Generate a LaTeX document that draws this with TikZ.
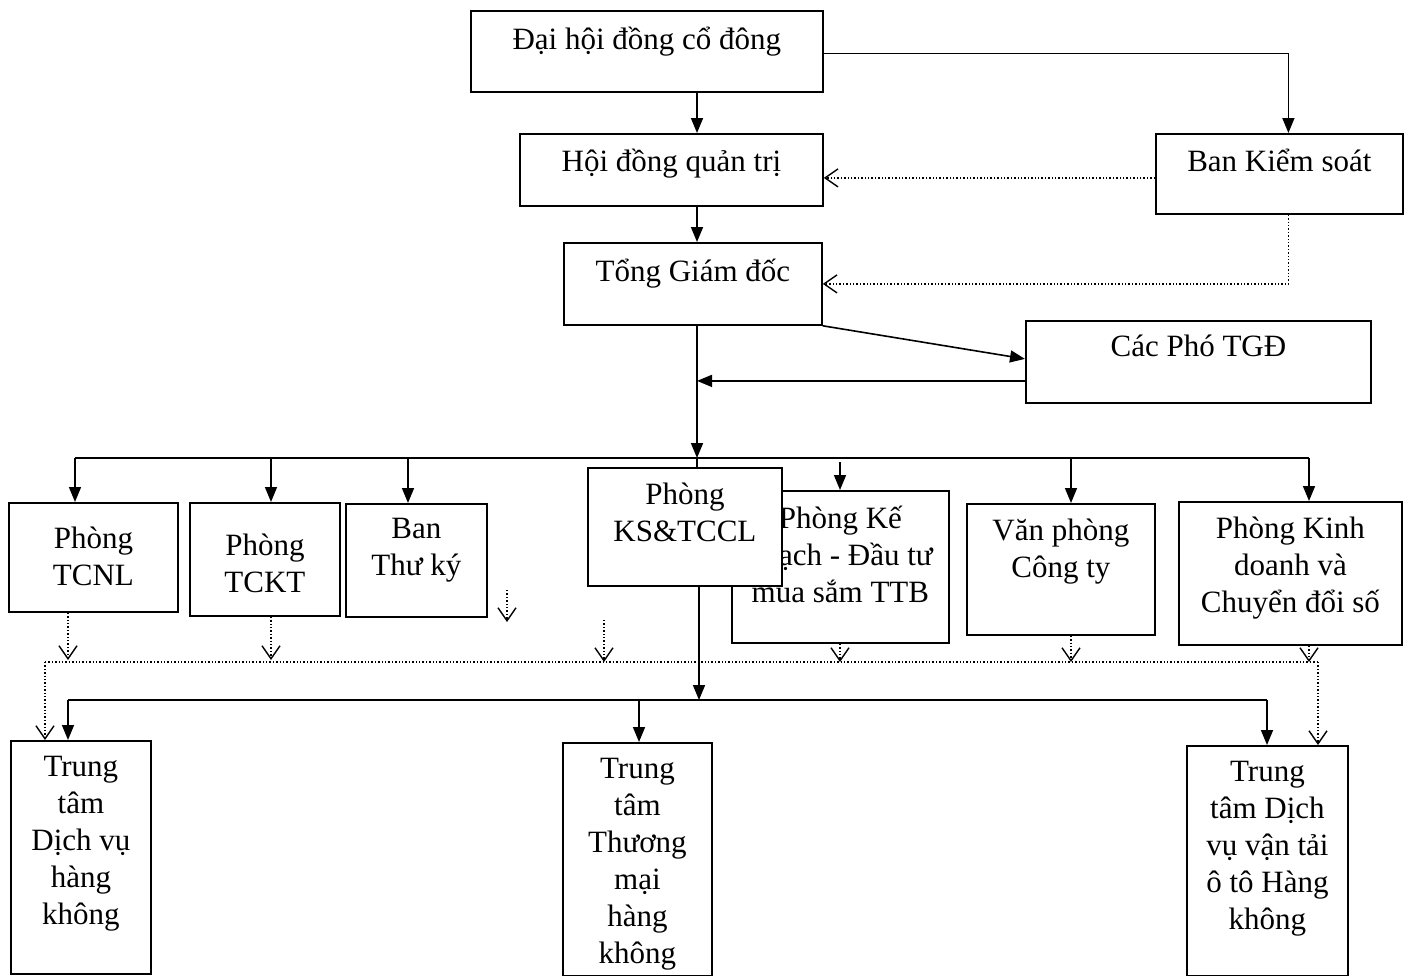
\documentclass[tikz,border=0pt]{standalone}
\usepackage{fontspec}
\setmainfont{Liberation Serif}
\usetikzlibrary{arrows.meta}
\begin{document}
\begin{tikzpicture}[
        x=0.5pt, y=-0.5pt,
        every node/.style={font=\fontsize{15.5}{18.5}\selectfont},
        box/.style={draw, line width=0.9pt, fill=white, anchor=north west, inner sep=0pt},
        lab/.style={anchor=north, align=center, inner sep=0pt, yshift=-8pt},
        ar/.style={-{Triangle[length=7.5pt,width=6pt]}, line width=0.8pt},
        dar/.style={-{Straight Barb[length=6.5pt,width=9pt,line width=0.7pt]}, densely dotted, line width=0.7pt},
    ]
    \useasboundingbox (0,0) rectangle (1408,975);
    \clip (0,0) rectangle (1408,975);

    % upper part
    \node[box, minimum width=176pt, minimum height=40.5pt, label={[lab, yshift=-0.5pt]north:Đại hội đồng cổ đông}] (dhd) at (470,10) {};
    \node[box, minimum width=151.5pt, minimum height=36pt, label={[lab]north:Hội đồng quản trị}] (hdqt) at (519,133) {};
    \node[box, minimum width=123.5pt, minimum height=40pt, label={[lab]north:Ban Kiểm soát}] (bks) at (1155,133) {};
    \node[box, minimum width=129pt, minimum height=41pt, label={[lab, yshift=-0.5pt]north:Tổng Giám đốc}] (tgd) at (563,242) {};
    \node[box, minimum width=172.5pt, minimum height=41pt, label={[lab, yshift=0.5pt]north:Các Phó TGĐ}] (pho) at (1025,320) {};

    % departments
    \node[box, minimum width=84.5pt, minimum height=54.5pt, label={[lab, yshift=-4.5pt]north:{Phòng\\TCNL}}] (tcnl) at (8,502) {};
    \node[box, minimum width=75pt, minimum height=56.5pt, label={[lab, yshift=-8pt]north:{Phòng\\TCKT}}] (tckt) at (189,502) {};
    \node[box, minimum width=70.5pt, minimum height=56.5pt, label={[lab, yshift=0.5pt]north:{Ban\\Thư ký}}] (ban) at (345,503) {};
    \node[box, minimum width=108.5pt, minimum height=76pt, label={[lab]north:{Phòng Kế\\hoạch - Đầu tư\\mua sắm TTB}}] (kh) at (731,490) {};
    \node[box, minimum width=97pt, minimum height=59pt, label={[lab]north:{Phòng\\KS\&TCCL}}] (ks) at (587,467) {};
    \node[box, minimum width=94pt, minimum height=65.5pt, label={[lab]north:{Văn phòng\\Công ty}}] (vp) at (966,503) {};
    \node[box, minimum width=111.5pt, minimum height=71.5pt, label={[lab]north:{Phòng Kinh\\doanh và\\Chuyển đổi số}}] (kd) at (1178,501) {};

    % centres
    \node[box, minimum width=70pt, minimum height=116.5pt, label={[lab]north:{Trung\\tâm\\Dịch vụ\\hàng\\không}}] (ttdv) at (10,740) {};
    \node[box, minimum width=74.5pt, minimum height=116.5pt, label={[lab]north:{Trung\\tâm\\Thương\\mại\\hàng\\không}}] (tttm) at (562,742) {};
    \node[box, minimum width=80.5pt, minimum height=115pt, label={[lab]north:{Trung\\tâm Dịch\\vụ vận tải\\ô tô Hàng\\không}}] (ttvt) at (1186,745) {};

    \coordinate (tr) at (697,458);
    \coordinate (bl) at (75,458);
    \coordinate (br) at (1309,458);
    \coordinate (lo) at (699,700);
    \coordinate (ll) at (68,700);
    \coordinate (lr) at (1267,700);
    \coordinate (dl) at (45,662);
    \coordinate (dr) at (1318,662);

    \draw[ar] (dhd.south -| tr) -- (hdqt.north -| tr);
    \draw[ar] (hdqt.south -| tr) -- (tgd.north -| tr);
    \draw[ar] ([yshift=-1pt]dhd.east) -| ([xshift=4.5pt]bks.north);
    \draw[dar] ([yshift=-2pt]bks.west) -- ([yshift=-2pt]bks.west -| hdqt.east);
    \draw[dar] ([xshift=4.5pt]bks.south) |- (tgd.east);
    \draw[ar] (tgd.south east) -- ([yshift=1.5pt]pho.west);
    \coordinate (p1) at ([yshift=-9.5pt]pho.west);
    \draw[ar] (p1) -- (p1 -| tr);
    \draw[ar] (tgd.south -| tr) -- (tr);

    % top bus
    \draw[line width=0.8pt] (bl) -- (br);
    \draw[line width=0.8pt] (tr) -- (ks.north -| tr);
    \coordinate (a1) at (271,458);
    \coordinate (a2) at (408,458);
    \coordinate (a3) at (840,462);
    \coordinate (a4) at (1071,458);
    \draw[ar] (bl) -- (bl |- tcnl.north);
    \draw[ar] (a1) -- (a1 |- tckt.north);
    \draw[ar] (a2) -- (a2 |- ban.north);
    \draw[ar] (a3) -- (a3 |- kh.north);
    \draw[ar] (a4) -- (a4 |- vp.north);
    \draw[ar] (br) -- (br |- kd.north);

    % dotted bus
    \coordinate (d1) at (68,660);
    \coordinate (d2) at (271,660);
    \coordinate (d3) at (604,662);
    \coordinate (d4) at (840,662);
    \coordinate (d5) at (1071,662);
    \coordinate (d6) at (1309,662);
    \coordinate (f1) at (507,590);
    \coordinate (f2) at (507,622);
    \coordinate (d0) at (604,620);
    \draw[dar] (d1 |- tcnl.south) -- (d1);
    \draw[dar] (d2 |- tckt.south) -- (d2);
    \draw[dar] (f1) -- (f2);
    \draw[dar] (d0) -- (d3);
    \draw[dar] (d4 |- kh.south) -- (d4);
    \draw[dar] (d5 |- vp.south) -- (d5);
    \draw[dar] (d6 |- kd.south) -- (d6);
    \draw[densely dotted, line width=0.7pt] (dl) -- (dr);
    \draw[dar] (dl) -- (dl |- ttdv.north);
    \draw[dar] (dr) -- (dr |- ttvt.north);

    % lower bus
    \draw[ar] (ks.south -| lo) -- (lo);
    \draw[line width=0.8pt] (ll) -- (lr);
    \coordinate (m1) at (639,700);
    \draw[ar] (ll) -- (ll |- ttdv.north);
    \draw[ar] (m1) -- (m1 |- tttm.north);
    \draw[ar] (lr) -- (lr |- ttvt.north);
\end{tikzpicture}
\end{document}
